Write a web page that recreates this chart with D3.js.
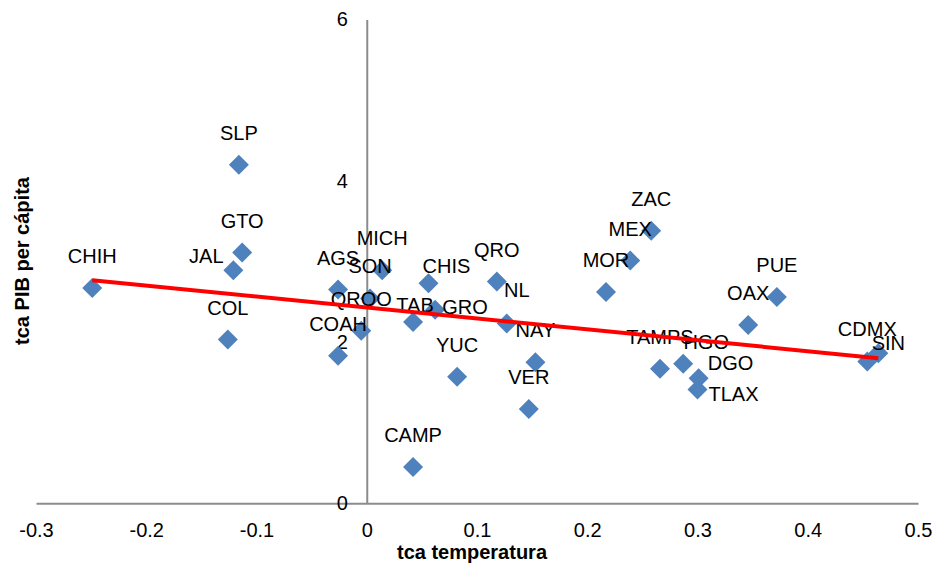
<!DOCTYPE html>
<html>
<head>
<meta charset="utf-8">
<script src="https://cdn.jsdelivr.net/npm/d3@7"></script>
<style>
  body { margin: 0; background: #fff; }
  svg text { font-family: Arial, "Liberation Sans", sans-serif; fill: #000; }
</style>
</head>
<body>
<svg id="chart" width="935" height="566"></svg>
<script>
// datos por estado
const estados = ["CHIH", "SLP", "GTO", "JAL", "COL", "AGS", "COAH", "MICH", "SON", "QROO",
  "CHIS", "GRO", "TAB", "QRO", "NL", "YUC", "NAY", "VER", "CAMP", "MOR",
  "ZAC", "MEX", "PUE", "OAX", "CDMX", "SIN", "TAMPS", "HGO", "DGO", "TLAX"];
const tcaTemperatura = [-0.249, -0.116, -0.113, -0.121, -0.126, -0.026, -0.026, 0.014, 0.003, -0.005,
  0.056, 0.062, 0.042, 0.118, 0.127, 0.082, 0.153, 0.147, 0.042, 0.217,
  0.258, 0.239, 0.372, 0.346, 0.454, 0.464, 0.266, 0.287, 0.301, 0.300];
const tcaPib = [2.67, 4.20, 3.11, 2.89, 2.03, 2.65, 1.83, 2.89, 2.54, 2.14,
  2.73, 2.40, 2.25, 2.75, 2.23, 1.57, 1.75, 1.17, 0.45, 2.62,
  3.38, 3.01, 2.56, 2.21, 1.76, 1.86, 1.67, 1.73, 1.55, 1.41];
const xTicks = [-0.3, -0.2, -0.1, 0, 0.1, 0.2, 0.3, 0.4, 0.5];
const yTicks = [0, 2, 4, 6];

// etiquetas movidas a mano (dx, dy en px desde el marcador); el resto va arriba
const ajusteEtiqueta = {
  "JAL": [-27, -14], "CHIS": [18, -17], "TAB": [2, -17], "GRO": [30, -3],
  "NL": [10, -33], "SIN": [10, -10], "HGO": [23, -22], "DGO": [32, -15], "TLAX": [36, 4]
};

const svg = d3.select("#chart");
const x = d3.scaleLinear().domain([-0.3, 0.5]).range([36, 918]);
const y = d3.scaleLinear().domain([0, 6]).range([503.3, 19.5]);

const puntos = estados.map((e, i) => ({ estado: e, x: tcaTemperatura[i], y: tcaPib[i] }));

// ejes (sin marcas, solo la línea gris)
const ejeX = d3.axisBottom(x).tickValues(xTicks).tickSize(0).tickPadding(20)
  .tickFormat(d => String(d));
svg.append("g").attr("transform", `translate(0,${y(0)})`).call(ejeX)
  .call(g => g.select(".domain").attr("stroke", "#8c8c8c").attr("stroke-width", 2))
  .call(g => g.selectAll("text").attr("font-size", 20).attr("font-family", "Arial, 'Liberation Sans', sans-serif"));

const ejeY = d3.axisLeft(y).tickValues(yTicks).tickSize(0).tickPadding(19)
  .tickFormat(d => String(d));
svg.append("g").attr("transform", `translate(${x(0)},0)`).call(ejeY)
  .call(g => g.select(".domain").attr("stroke", "#8c8c8c").attr("stroke-width", 2))
  .call(g => g.selectAll("text").attr("font-size", 20).attr("font-family", "Arial, 'Liberation Sans', sans-serif"));

// titulos
svg.append("text")
  .attr("x", 472).attr("y", 559)
  .attr("text-anchor", "middle")
  .attr("font-size", 20).attr("font-weight", "bold")
  .text("tca temperatura");
svg.append("text")
  .attr("transform", "translate(29,261) rotate(-90)")
  .attr("text-anchor", "middle")
  .attr("font-size", 20).attr("font-weight", "bold")
  .text("tca PIB per cápita");

// marcadores
svg.append("g").selectAll("path")
  .data(puntos)
  .enter().append("path")
  .attr("d", "M0,-10L10,0L0,10L-10,0Z")
  .attr("transform", d => `translate(${x(d.x)},${y(d.y)})`)
  .attr("fill", "#4f81bd");

// etiquetas
svg.append("g").selectAll("text")
  .data(puntos)
  .enter().append("text")
  .attr("x", d => x(d.x) + (ajusteEtiqueta[d.estado] || [0, -32])[0])
  .attr("y", d => y(d.y) + (ajusteEtiqueta[d.estado] || [0, -32])[1] + 7)
  .attr("text-anchor", "middle")
  .attr("font-size", 20)
  .text(d => d.estado);

// linea de tendencia (minimos cuadrados)
const mx = d3.mean(puntos, d => d.x), my = d3.mean(puntos, d => d.y);
const pendiente = d3.sum(puntos, d => (d.x - mx) * (d.y - my)) / d3.sum(puntos, d => (d.x - mx) ** 2);
const corte = my - pendiente * mx;
const [x0, x1] = d3.extent(puntos, d => d.x);
svg.append("line")
  .attr("x1", x(x0)).attr("y1", y(corte + pendiente * x0))
  .attr("x2", x(x1)).attr("y2", y(corte + pendiente * x1))
  .attr("stroke", "#ff0000").attr("stroke-width", 4);
</script>
</body>
</html>
